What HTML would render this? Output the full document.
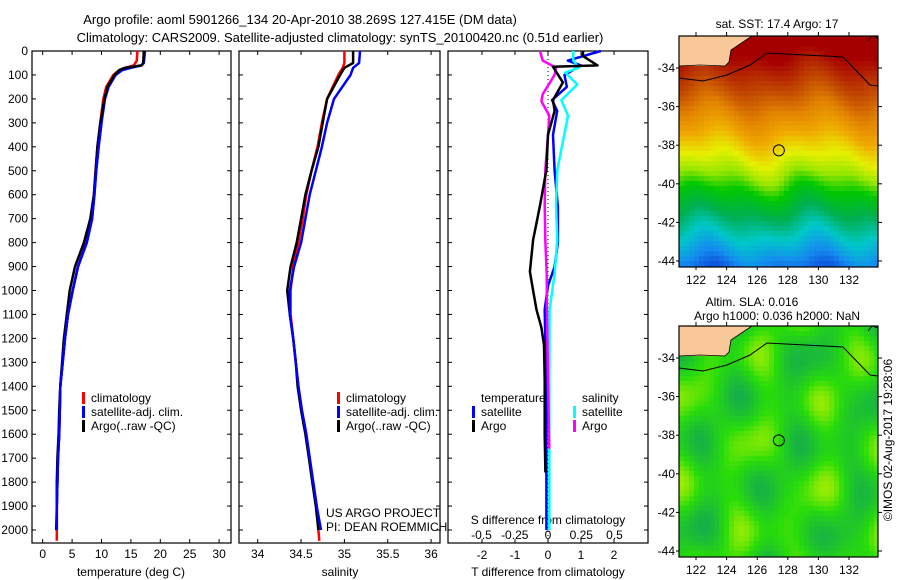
<!DOCTYPE html>
<html><head><meta charset="utf-8"><style>
body{margin:0;background:#fff;}
svg{display:block;font-family:"Liberation Sans",sans-serif;}
text{font-size:12px;fill:#000;}
</style></head><body>
<svg id="fig" width="900" height="580" viewBox="0 0 900 580">
<rect width="900" height="580" fill="#fff"/>
<text x="300" y="24" text-anchor="middle" style="font-size:13px">Argo profile: aoml 5901266_134 20-Apr-2010 38.269S 127.415E (DM data)</text>
<text x="340" y="42" text-anchor="middle" style="font-size:13px">Climatology: CARS2009. Satellite-adjusted climatology: synTS_20100420.nc (0.51d earlier)</text>
<g id="g"></g>
<text transform="translate(892,440) rotate(-90)" text-anchor="middle">©IMOS 02-Aug-2017 19:28:06</text>
</svg>
<script>
// ---------- data ----------
const depthTicks=[0,100,200,300,400,500,600,700,800,900,1000,1100,1200,1300,1400,1500,1600,1700,1800,1900,2000];
const tTicks=[0,5,10,15,20,25,30];
const sTicks=[34,34.5,35,35.5,36];
const dtTicks=[-2,-1,0,1,2];
const dsTicks=[-0.5,-0.25,0,0.25,0.5];
const dsTickLabels=['-0.5','-0.25','0','0.25','0.5'];
const lonTicks=[122,124,126,128,130,132];
const latTicks=[-34,-36,-38,-40,-42,-44];

const argoTDepth=[0,50,60,70,80,100,150,200,300,400,500,600,700,800,900,1000,1100,1200,1300,1400,1500,1600,1700,1800,1900,2000];
const argoT=[17.2,17.1,16.8,14,13,12.2,11,10.5,9.8,9.3,9,8.7,8.1,7,5.5,4.6,4.1,3.6,3.3,3,2.8,2.7,2.5,2.4,2.4,2.3];
const satT=[17.4,17.2,16.8,15,13.5,12.4,11.2,10.6,10,9.5,9.1,8.8,8.4,7.5,6.0,5.1,4.3,3.8,3.4,3.0,2.9,2.8,2.6,2.5,2.4,2.4];
const climTDepth=[0,40,60,70,80,100,150,200,300,400,500,600,700,800,900,1000,1100,1200,1300,1400,1500,1600,1700,1800,1900,2000,2045];
const climT=[16.1,16,15.5,14,13,12,10.8,10.3,9.8,9.3,9,8.7,8.3,7.4,6.0,5.1,4.3,3.8,3.4,3.0,2.9,2.8,2.6,2.5,2.4,2.4,2.4];

const argoSDepth=[0,50,70,100,200,300,400,500,600,700,800,900,1000,1100,1200,1300,1400,1500,1600,1700,1800,1900,2000];
const argoS=[35.1,35.1,35.0,34.95,34.8,34.75,34.7,34.62,34.55,34.5,34.45,34.38,34.34,34.37,34.41,34.44,34.46,34.5,34.55,34.59,34.63,34.67,34.7];
const satS=[35.18,35.17,35.1,35.07,34.88,34.8,34.74,34.67,34.6,34.55,34.5,34.42,34.37,34.37,34.41,34.44,34.47,34.51,34.56,34.6,34.64,34.68,34.73];
const climSDepth=[0,50,70,100,200,300,400,500,600,700,800,900,1000,1100,1200,1300,1400,1500,1600,1700,1800,1900,2000,2045];
const climS=[35.0,35.0,34.98,34.93,34.8,34.74,34.69,34.62,34.56,34.52,34.47,34.41,34.38,34.38,34.41,34.44,34.47,34.51,34.56,34.6,34.64,34.68,34.7,34.71];

const dTArgoDepth=[0,20,60,66,131,205,250,350,497,643,789,921,1000,1080,1155,1228,1374,1600,1760];
const dTArgo=[1.07,1.05,1.5,0.15,0.45,0.15,0.2,0.0,-0.05,-0.24,-0.45,-0.55,-0.45,-0.35,-0.2,-0.12,-0.1,-0.1,-0.08];
const dTSatDepth=[0,40,60,100,150,205,250,350,500,650,800,900,980,1080,1228,1374,1700,2000];
const dTSat=[1.6,0.6,1.0,0.5,0.57,0.12,0.28,0.15,0.2,0.3,0.3,0.2,0.0,-0.1,-0.08,-0.05,-0.05,-0.05];
const dSSatDepth=[0,40,70,90,140,205,270,497,643,789,930,1080,1374,1700,2000];
const dSSat=[0.19,0.19,0.23,0.13,0.22,0.1,0.15,0.07,0.06,0.07,0.05,0.012,0.01,0.01,0.01];
const dSArgoDepth=[0,40,70,100,180,210,270,350,497,643,789,930,1080,1374,1660];
const dSArgo=[-0.06,-0.04,0.06,0.05,-0.04,-0.05,0.01,0.0,-0.02,-0.025,-0.02,-0.01,-0.008,0.0,0.01];

// ---------- drawing ----------
const NS='http://www.w3.org/2000/svg';
const G=document.getElementById('g');
function el(tag,attrs,parent){const e=document.createElementNS(NS,tag);for(const k in attrs)e.setAttribute(k,attrs[k]);(parent||G).appendChild(e);return e;}
function txt(x,y,s,anchor,parent){const t=el('text',{x:x,y:y,'text-anchor':anchor||'middle'},parent);t.textContent=s;return t;}

const Y0=51,Y1=543;
const yD=d=>Y0+d*(530-51)/2000;
const xT=t=>42.7+5.88*t;
const xS=s=>257.7+86.7*(s-34);
const xDT=v=>548+33*v;
const xDS=v=>548+133*v;

function panel(x0,x1,name){
  const r=el('rect',{x:x0,y:Y0,width:x1-x0,height:Y1-Y0,fill:'none',stroke:'#000','stroke-width':1.2});
  
  
  depthTicks.forEach(d=>{el('line',{x1:x0,x2:x0+4,y1:yD(d),y2:yD(d),stroke:'#000'});el('line',{x1:x1,x2:x1-4,y1:yD(d),y2:yD(d),stroke:'#000'});});
}
function line(xs,ds,xf,color,name){
  const p=xs.map((v,i)=>xf(v).toFixed(1)+','+yD(ds[i]).toFixed(1)).join(' ');
  const e=el('polyline',{points:p,fill:'none',stroke:color,'stroke-width':2.5,'stroke-linejoin':'round'});
  
  
}
// panel 1
panel(32,231,'temperature-panel');
depthTicks.forEach(d=>{const t=txt(28,yD(d)+4,String(d),'end');});
tTicks.forEach(v=>{txt(xT(v),558,String(v));el('line',{x1:xT(v),x2:xT(v),y1:Y1,y2:Y1-4,stroke:'#000'});el('line',{x1:xT(v),x2:xT(v),y1:Y0,y2:Y0+4,stroke:'#000'});});
txt(131,576,'temperature (deg C)');
line(climT,climTDepth,xT,'#f00','temp-climatology-line');
line(satT,argoTDepth,xT,'#00f','temp-satellite-line');
line(argoT,argoTDepth,xT,'#000','temp-argo-line');
line(satT.slice(8),argoTDepth.slice(8),xT,'#00f','temp-satellite-line-deep');
// panel 2
panel(239,440,'salinity-panel');
sTicks.forEach(v=>{txt(xS(v),558,String(v));el('line',{x1:xS(v),x2:xS(v),y1:Y1,y2:Y1-4,stroke:'#000'});el('line',{x1:xS(v),x2:xS(v),y1:Y0,y2:Y0+4,stroke:'#000'});});
txt(340,576,'salinity');
line(climS,climSDepth,xS,'#f00','sal-climatology-line');
line(argoS,argoSDepth,xS,'#000','sal-argo-line');
line(satS,argoSDepth,xS,'#00f','sal-satellite-line');
txt(326,517,'US ARGO PROJECT','start');
txt(326,531,'PI: DEAN ROEMMICH','start');
// panel 3
panel(448,648,'difference-panel');
el('line',{x1:548,x2:548,y1:Y0,y2:Y1,stroke:'#000','stroke-dasharray':'1,3'});
dtTicks.forEach(v=>{txt(xDT(v),559,String(v));el('line',{x1:xDT(v),x2:xDT(v),y1:Y1,y2:Y1-4,stroke:'#000'});el('line',{x1:xDT(v),x2:xDT(v),y1:Y0,y2:Y0+4,stroke:'#000'});});
dsTicks.forEach((v,i)=>txt(xDS(v),539,dsTickLabels[i]));
txt(548,524,'S difference from climatology');
txt(548,576,'T difference from climatology');
line(dTSat,dTSatDepth,xDT,'#00f','dT-satellite-line');
line(dSSat,dSSatDepth,xDS,'#0ff','dS-satellite-line');
line(dSArgo,dSArgoDepth,xDS,'#f0f','dS-argo-line');
line(dTArgo,dTArgoDepth,xDT,'#000','dT-argo-line');

// legends
function leg(x,y,c,s,name){el('rect',{x:x,y:y-10,width:3,height:12,fill:c});const t=txt(x+9,y,s,'start');}
[['#f00','climatology'],['#00f','satellite-adj. clim.'],['#000','Argo(..raw -QC)']].forEach((a,i)=>leg(82,402+i*14,a[0],a[1],'legend-entry'));
[['#f00','climatology'],['#00f','satellite-adj. clim.'],['#000','Argo(..raw -QC)']].forEach((a,i)=>leg(337,402+i*14,a[0],a[1],'legend-entry'));
txt(481,402,'temperature','start');txt(582,402,'salinity','start');
leg(472,416,'#00f','satellite','legend-entry');leg(472,430,'#000','Argo','legend-entry');
leg(573,416,'#0ff','satellite','legend-entry');leg(573,430,'#f0f','Argo','legend-entry');

// ---------- maps ----------
const MX0=679,MX1=878;
const lonX=l=>696+(l-122)*15.3;
function sstColor(t){
  const stops=[[0,[10,60,210]],[0.1,[20,140,240]],[0.2,[0,200,200]],[0.3,[0,175,80]],[0.4,[0,200,0]],[0.47,[150,230,0]],[0.55,[230,240,0]],[0.65,[240,170,0]],[0.75,[225,130,0]],[0.85,[195,75,0]],[1,[165,0,0]]];
  t=Math.max(0,Math.min(1,t));
  for(let i=1;i<stops.length;i++){if(t<=stops[i][0]){const a=stops[i-1],b=stops[i],f=(t-a[0])/(b[0]-a[0]);return 'rgb('+a[1].map((v,k)=>Math.round(v+(b[1][k]-v)*f)).join(',')+')';}}
  return 'rgb(165,0,0)';
}
function slaColor(v){
  const a=[20,170,80],b=[40,220,10],c=[220,245,0];
  let f,p,q; if(v<0){f=v+1;p=a;q=b;}else{f=v;p=b;q=c;}
  f=Math.max(0,Math.min(1,f));
  return 'rgb('+p.map((x,k)=>Math.round(x+(q[k]-x)*f)).join(',')+')';
}
function map(top,kind,title1,title2){
  const H=231, bot=top+H;
  const latY=l=>top+32+(-34-l)*19.3;
  const mg=el('g',{});
  
  
  const cell=5;
  for(let y=top;y<bot;y+=cell){for(let x=MX0;x<MX1;x+=cell){
    const lon=122+(x+2-696)/15.3, lat=-34-(y+2-top-32)/19.3;
    let col;
    if(kind==='sst'){
      const t=0.6+(lat+38)*0.085+0.03*Math.sin(lon*0.9+1)+0.02*Math.sin(lon*1.7+lat*0.8);
      col=sstColor(t);
    }else{
      const v=0.45*Math.sin(lon*1.05+lat*0.55+0.7)*Math.cos(lat*0.9-lon*0.25)+0.3*Math.sin(lon*0.7-lat*1.3+2)+0.2*Math.cos(lon*1.9+lat*0.4)-0.15;
      col=slaColor(v);
    }
    el('rect',{x:x,y:y,width:Math.min(cell,MX1-x),height:Math.min(cell,bot-y),fill:col},mg);
  }}
  const land=el('polygon',{points:[MX0,top,752,top,740,top+8,731,top+14,729,top+26,725,top+30,MX0,top+30].join(' '),fill:'#f8c898'},mg);
  
  
  el('polyline',{points:[MX0,top+30,700,top+29,725,top+30,729,top+26,731,top+14,752,top].join(' '),fill:'none',stroke:'#000','stroke-width':0.8},mg);
  el('polyline',{points:[MX0,top+42,703,top+45,727,top+39,750,top+29,767,top+17,843,top+21,870,top+49,878,top+50].join(' '),fill:'none',stroke:'#000','stroke-width':1},mg);
  el('polyline',{points:[868,top+5,872,top,878,top+2].join(' '),fill:'none',stroke:'#000','stroke-width':0.8},mg);
  el('rect',{x:MX0,y:top,width:MX1-MX0,height:H,fill:'none',stroke:'#000','stroke-width':1.2},mg);
  const c=el('circle',{cx:lonX(127.415),cy:latY(-38.269),r:5.5,fill:'none',stroke:'#000','stroke-width':1},mg);
  
  
  lonTicks.forEach(l=>{txt(lonX(l),bot+17,String(l));el('line',{x1:lonX(l),x2:lonX(l),y1:top,y2:top-4,stroke:'#000'});el('line',{x1:lonX(l),x2:lonX(l),y1:bot,y2:bot+3,stroke:'#000'});});
  latTicks.forEach(l=>{txt(MX0-4,latY(l)+4,String(l),'end');el('line',{x1:MX0,x2:MX0-3,y1:latY(l),y2:latY(l),stroke:'#000'});el('line',{x1:MX1,x2:MX1+4,y1:latY(l),y2:latY(l),stroke:'#000'});});
  if(title2){txt(752,top-20,title1);txt(777,top-6,title2);}else{txt(777,top-8,title1);}
}
map(36,'sst','sat. SST: 17.4 Argo: 17');
map(326,'sla','Altim. SLA: 0.016','Argo h1000: 0.036 h2000: NaN');
</script>
</body></html>
